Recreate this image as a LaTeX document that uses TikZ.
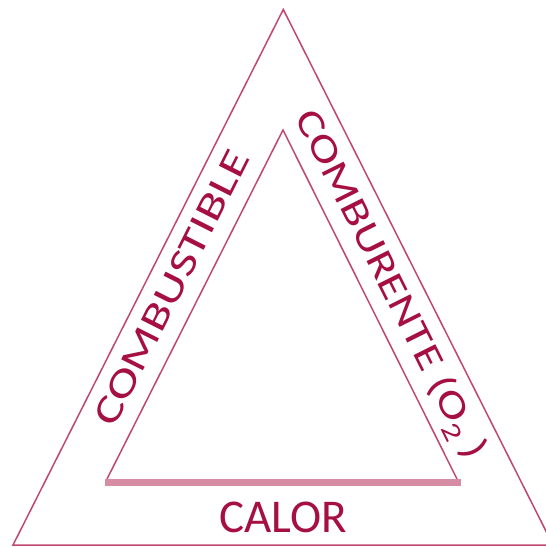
\documentclass[tikz,border=0pt]{standalone}
\usepackage{fontspec}
\setmainfont{Carlito}
\definecolor{edge}{RGB}{192,72,112}
\definecolor{txt}{RGB}{165,15,65}
\definecolor{barc}{RGB}{214,140,162}
\begin{document}
\begin{tikzpicture}[x=1pt,y=-1pt,
  edgeline/.style={draw=edge,line width=1.5pt,line join=miter},
  sidetext/.style={text=txt,font=\fontsize{38}{38}\selectfont,inner sep=0pt,text height=24pt,text depth=0pt,xscale=1.36},
  basebar/.style={draw=barc,line width=7pt}]
\useasboundingbox (0,0) rectangle (546,547);
\clip (0,0) rectangle (546,547);
\coordinate (OA) at (283.3,9.5);
\coordinate (OL) at (13,545);
\coordinate (OR) at (553,545);
\coordinate (IA) at (283,130);
\coordinate (IL) at (107,479);
\coordinate (IR) at (457,479);
\coordinate (BL) at (105,482);
\coordinate (BR) at (461,482);
\draw[edgeline] (OL) -- (OA) -- (OR) -- cycle;
\draw[edgeline] (IL) -- (IA) -- (IR);
\draw[basebar] (BL) -- (BR);
\node[rotate=63.25,sidetext] (comb) at (171.6,288) {COMBUSTIBLE};
\node[rotate=-63.4,sidetext,xscale=0.94] (cbte) at (391.7,284.3) {COMBURENTE (O\textsubscript{2}\,)};
\node[text=txt,font=\fontsize{47}{47}\selectfont,inner sep=0pt,anchor=base] (calor) at (283.3,532) {CALOR};
\end{tikzpicture}
\end{document}
